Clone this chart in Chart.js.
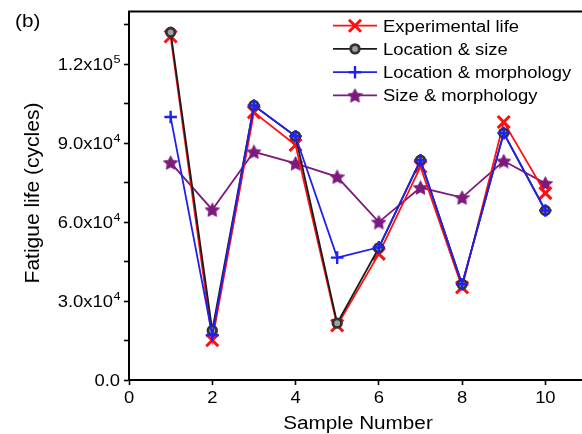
<!DOCTYPE html>
<html>
<head>
<meta charset="utf-8">
<script src="https://cdn.jsdelivr.net/npm/chart.js@4/dist/chart.umd.min.js"></script>
<style>
  html, body { margin: 0; padding: 0; background: #fff; overflow: hidden; }
  #wrap { width: 600px; height: 434px; }
</style>
</head>
<body>
<div id="wrap"><canvas id="c" width="600" height="434"></canvas></div>
<script>
// Sample numbers and fatigue life (cycles) per prediction
const samples = [1, 2, 3, 4, 5, 6, 7, 8, 9, 10];
const experimentalLife = [130500, 15100, 101700, 89300, 20700, 47900, 81000, 35200, 98000, 71000];
const locationSize = [132100, 18800, 104300, 92600, 21600, 50200, 83500, 36400, 93800, 64400];
const locationMorphology = [99900, 17000, 104300, 92600, 46500, 50400, 83500, 36400, 93800, 64400];
const sizeMorphology = [82600, 64700, 86700, 82300, 77200, 60000, 73100, 69300, 83200, 74700];

const seriesNames = ['Experimental life', 'Location & size', 'Location & morphology', 'Size & morphology'];

// Axis ticks
const xTicks = [0, 2, 4, 6, 8, 10];
const yMajorTicks = [0, 30000, 60000, 90000, 120000];
const yMinorTicks = [15000, 45000, 75000, 105000, 135000];
const yTickMantissa = ['0.0', '3.0x10', '6.0x10', '9.0x10', '1.2x10'];
const yTickExponent = ['', '4', '4', '4', '5'];

const FONT = '"Liberation Sans", Arial, Helvetica, sans-serif';
const SX = 1.15; // horizontal stretch of lettering

// filled five-point star marker
function makeStar(color, size) {
  const c = document.createElement('canvas');
  c.width = size; c.height = size;
  const g = c.getContext('2d');
  const cx = size / 2, cy = size / 2 + 0.7, ro = size / 2, ri = ro * 0.5;
  g.beginPath();
  for (let i = 0; i < 10; i++) {
    const r = i % 2 === 0 ? ro : ri;
    const a = -Math.PI / 2 + i * Math.PI / 5;
    const px = cx + r * Math.cos(a), py = cy + r * Math.sin(a);
    if (i === 0) g.moveTo(px, py); else g.lineTo(px, py);
  }
  g.closePath();
  g.fillStyle = color;
  g.fill();
  g.lineJoin = 'round';
  g.lineWidth = 0.8;
  g.strokeStyle = color;
  g.stroke();
  return c;
}
const purple = '#7d1a7d';
const starMarker = makeStar(purple, 15);

function drawText(ctx, str, x, y, size, align, sx) {
  sx = sx || SX;
  ctx.save();
  ctx.font = size + 'px ' + FONT;
  ctx.textAlign = 'left';
  ctx.textBaseline = 'alphabetic';
  ctx.fillStyle = '#000';
  const w = ctx.measureText(str).width * sx;
  const x0 = align === 'right' ? x - w : align === 'center' ? x - w / 2 : x;
  ctx.translate(x0, y);
  ctx.scale(sx, 1);
  ctx.fillText(str, 0, 0);
  ctx.restore();
  return w;
}
function textWidth(ctx, str, size) {
  ctx.save();
  ctx.font = size + 'px ' + FONT;
  const w = ctx.measureText(str).width * SX;
  ctx.restore();
  return w;
}

function drawMarker(ctx, ds, x, y) {
  ctx.save();
  ctx.strokeStyle = ds.pointBorderColor;
  ctx.fillStyle = ds.pointBackgroundColor;
  ctx.lineWidth = ds.pointBorderWidth;
  if (Chart.helpers && Chart.helpers.drawPoint) {
    Chart.helpers.drawPoint(ctx, {
      pointStyle: ds.pointStyle, rotation: 0,
      radius: ds.pointRadius, borderWidth: ds.pointBorderWidth
    }, x, y);
  }
  ctx.restore();
}

const overlay = {
  id: 'overlay',
  afterDraw(chart) {
    const ctx = chart.ctx;
    const a = chart.chartArea;
    const xs = chart.scales.x, ys = chart.scales.y;

    // top frame line
    ctx.save();
    ctx.strokeStyle = '#000';
    ctx.lineWidth = 2;
    ctx.beginPath();
    ctx.moveTo(a.left - 1, a.top);
    ctx.lineTo(a.right + 1, a.top);
    ctx.stroke();
    ctx.restore();

    // y tick labels with superscript exponents
    yMajorTicks.forEach((v, i) => {
      const ty = ys.getPixelForValue(v);
      const base = ty + 5.8;
      const right = 120;
      const supW = yTickExponent[i] ? textWidth(ctx, yTickExponent[i], 11) : 0;
      const mainW = textWidth(ctx, yTickMantissa[i], 16);
      const x0 = right - supW - mainW;
      drawText(ctx, yTickMantissa[i], x0, base, 16, 'left');
      if (yTickExponent[i]) drawText(ctx, yTickExponent[i], x0 + mainW + 0.5, base - 6.8, 11, 'left');
    });

    // x tick labels
    xTicks.forEach(v => {
      drawText(ctx, String(v), xs.getPixelForValue(v), 403, 16, 'center');
    });

    // axis titles
    drawText(ctx, 'Sample Number', 358, 429, 18, 'center');
    ctx.save();
    ctx.translate(33, 193);
    ctx.rotate(-Math.PI / 2);
    ctx.font = '21px ' + FONT;
    ctx.fillStyle = '#000';
    ctx.textAlign = 'center';
    ctx.textBaseline = 'middle';
    ctx.fillText('Fatigue life (cycles)', 0, 0);
    ctx.restore();

    // panel letter
    drawText(ctx, '(b)', 15, 27, 18, 'left');

    // legend
    const baselines = [31.5, 54.7, 78, 101.2];
    chart.data.datasets.forEach((ds, i) => {
      const ly = baselines[i] - 5.8;
      ctx.save();
      ctx.strokeStyle = ds.borderColor;
      ctx.lineWidth = ds.borderWidth;
      ctx.beginPath();
      ctx.moveTo(333, ly);
      ctx.lineTo(377, ly);
      ctx.stroke();
      ctx.restore();
      drawMarker(ctx, ds, 355, ly);
      drawText(ctx, ds.label, 383, baselines[i], 16, 'left');
    });
  }
};

function toPoints(vals) { return samples.map((s, i) => ({ x: s, y: vals[i] })); }

new Chart(document.getElementById('c'), {
  type: 'line',
  data: {
    datasets: [
      {
        label: seriesNames[0], data: toPoints(experimentalLife), order: 2,
        borderColor: '#ff1010', borderWidth: 1.8,
        pointStyle: 'crossRot', pointRadius: 8.5, pointBorderWidth: 3,
        pointBorderColor: '#ff1010', pointBackgroundColor: '#ff1010'
      },
      {
        label: seriesNames[1], data: toPoints(locationSize), order: 1,
        borderColor: '#1a1a1a', borderWidth: 1.8,
        pointStyle: 'circle', pointRadius: 4.3, pointBorderWidth: 2.8,
        pointBorderColor: '#333333', pointBackgroundColor: '#a0a0a0'
      },
      {
        label: seriesNames[2], data: toPoints(locationMorphology), order: 0,
        borderColor: '#2020f0', borderWidth: 1.8,
        pointStyle: 'cross', pointRadius: 6.3, pointBorderWidth: 2.4,
        pointBorderColor: '#2020f0', pointBackgroundColor: '#2020f0'
      },
      {
        label: seriesNames[3], data: toPoints(sizeMorphology), order: 3,
        borderColor: purple, borderWidth: 1.8,
        pointStyle: starMarker, pointRadius: 7.5, pointBorderWidth: 0,
        pointBorderColor: purple, pointBackgroundColor: purple
      }
    ]
  },
  options: {
    responsive: false,
    devicePixelRatio: 1,
    animation: false,
    layout: { padding: { left: 0, right: 13, top: 8, bottom: 0 } },
    plugins: { legend: { display: false }, tooltip: { enabled: false } },
    elements: { line: { tension: 0 } },
    scales: {
      x: {
        type: 'linear', min: 0, max: 11,
        afterBuildTicks: s => { s.ticks = xTicks.map(v => ({ value: v })); },
        afterFit: s => { s.height = 54; },
        ticks: { display: false },
        grid: { drawOnChartArea: false, drawTicks: true, tickLength: 5, tickWidth: 1.6, tickColor: '#000' },
        border: { display: true, color: '#000', width: 2 }
      },
      y: {
        type: 'linear', min: 0, max: 140000,
        afterBuildTicks: s => {
          s.ticks = yMajorTicks.concat(yMinorTicks).sort((p, q) => p - q).map(v => ({ value: v }));
        },
        afterFit: s => { s.width = 129; },
        ticks: { display: false },
        grid: { drawOnChartArea: false, drawTicks: true, tickLength: 5, tickWidth: 1.6, tickColor: '#000' },
        border: { display: true, color: '#000', width: 2 }
      }
    }
  },
  plugins: [overlay]
});
</script>
</body>
</html>
